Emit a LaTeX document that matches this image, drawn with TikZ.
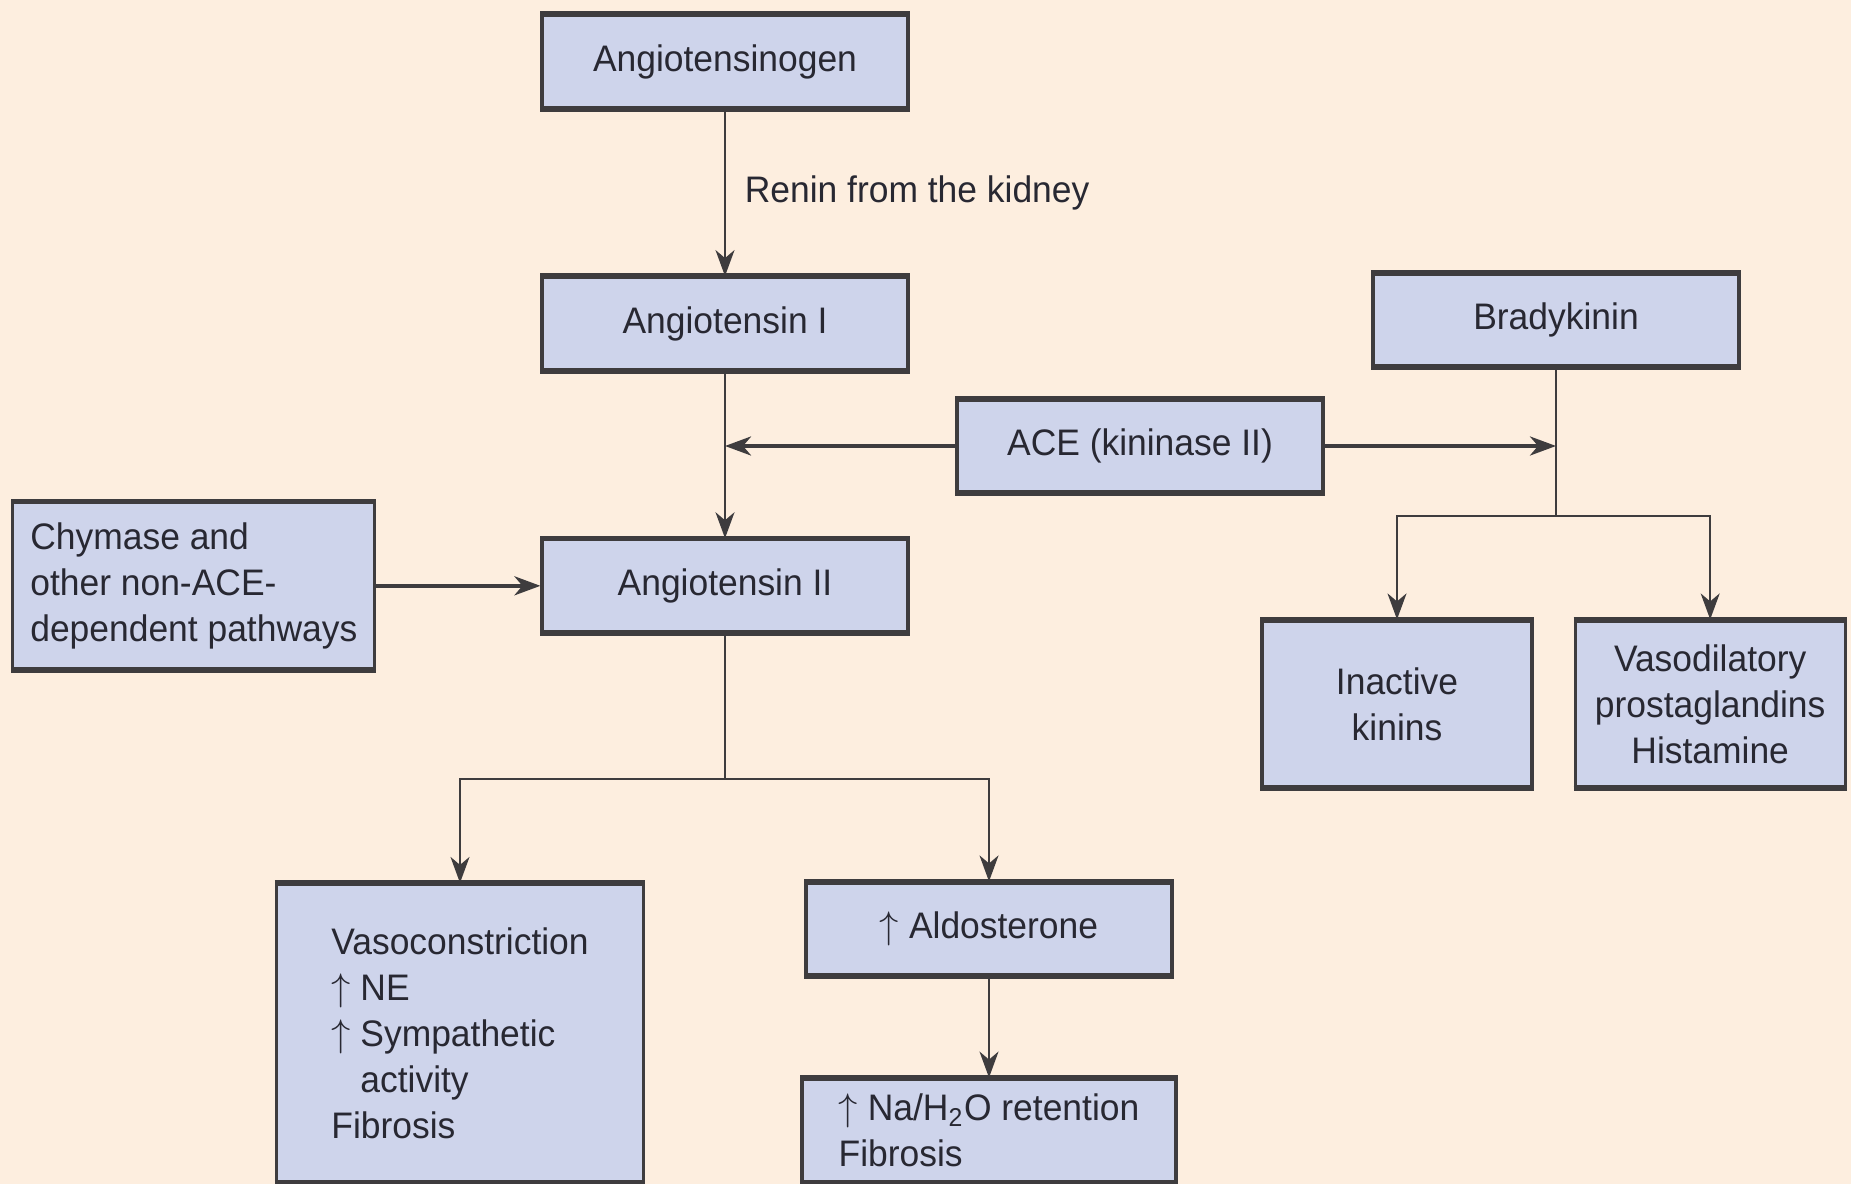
\documentclass[tikz,border=0pt]{standalone}
\usepackage{fontspec}
\setmainfont{Liberation Sans}[FakeStretch=0.96]
\usepackage{xcolor}
\usepackage{tikz}
\usetikzlibrary{positioning,arrows.meta}

\definecolor{peachbg}{RGB}{253,238,223}
\definecolor{boxfill}{RGB}{206,212,235}
\definecolor{boxline}{RGB}{62,60,62}
\definecolor{inktext}{RGB}{40,40,50}

\begin{document}
\begin{tikzpicture}[
        node distance=1.67cm,
        every node/.style={font=\fontsize{10.5}{13.1}\selectfont, text=inktext},
        block/.style={
            draw=boxline,
            line width=0.9pt,
            rectangle,
            align=center,
            fill=boxfill,
            minimum width=3.66cm,
            minimum height=0.92cm,
            inner sep=2pt
        },
        tallblock/.style={
            block,
            minimum width=2.70cm,
            minimum height=1.66cm
        },
        >={Stealth[length=2.6mm,width=1.9mm,inset=0.8mm]},
        arrow/.style={->, line width=0.6pt, draw=boxline},
        link/.style={line width=0.6pt, draw=boxline},
        heavy/.style={->, line width=1.1pt, draw=boxline}
    ]
        \useasboundingbox (0,0) rectangle (18.51,-11.84);
        \fill[peachbg] (0,0) rectangle (18.51,-11.84);

        % Angiotensin chain
        \node[block] (agen) at (7.25,-0.615) {Angiotensinogen};
        \node[block, below=of agen] (ang1) {Angiotensin I};
        \node[block, below=of ang1] (ang2) {Angiotensin II};
        \node[block, left=1.64cm of ang2, minimum width=3.62cm, minimum height=1.66cm, align=left] (chymase) {Chymase and\\other non-ACE-\\dependent pathways};

        % ACE and bradykinin side
        \node[block] (ace) at (11.40,-4.46) {ACE (kininase II)};
        \node[block] (brady) at (15.56,-3.20) {Bradykinin};
        \node[tallblock] (inact) at (13.97,-7.04) {Inactive\\kinins};
        \node[tallblock, right=0.40cm of inact] (vasodil) {Vasodilatory\\prostaglandins\\Histamine};

        % Effects of angiotensin II
        \node[block, minimum width=3.67cm, minimum height=2.97cm, align=left] (vasocon) at (4.60,-10.33) {Vasoconstriction\\$\uparrow$ NE\\$\uparrow$ Sympathetic\\\hphantom{$\uparrow$ }activity\\Fibrosis};
        \node[block] (aldo) at (9.89,-9.29) {$\uparrow$ Aldosterone};
        \node[block, below=1.01cm of aldo, minimum width=3.74cm, minimum height=1.02cm, align=left] (retention) {$\uparrow$ Na/H\textsubscript{2}O retention\\Fibrosis};

        % Heavier top and bottom edges
        \foreach \b in {agen,ang1,ang2,chymase,ace,brady,inact,vasodil,vasocon,aldo,retention}{
            \draw[boxline, line width=1.5pt] (\b.north west) -- (\b.north east) (\b.south west) -- (\b.south east);
        }

        \coordinate (acehit) at (ang1 |- ace);
        \coordinate (bradyhit) at (brady |- ace);
        \coordinate (bsplit) at (15.56,-5.16);
        \coordinate (asplit) at (7.25,-7.79);

        % Main flow
        \draw[arrow] (agen) -- node[right, xshift=2pt] {Renin from the kidney} (ang1);
        \draw[arrow] (ang1) -- (ang2);
        \draw[heavy] (chymase) -- (ang2);

        % ACE acts both ways
        \draw[heavy] (ace) -- (acehit);
        \draw[heavy] (ace) -- (bradyhit);

        % Bradykinin breakdown
        \draw[link] (brady) -- (bsplit);
        \draw[arrow] (bsplit) -| (inact);
        \draw[arrow] (bsplit) -| (vasodil);

        % Angiotensin II effects
        \draw[link] (ang2) -- (asplit);
        \draw[arrow] (asplit) -| (vasocon);
        \draw[arrow] (asplit) -| (aldo);
        \draw[arrow] (aldo) -- (retention);

    \end{tikzpicture}
\end{document}
